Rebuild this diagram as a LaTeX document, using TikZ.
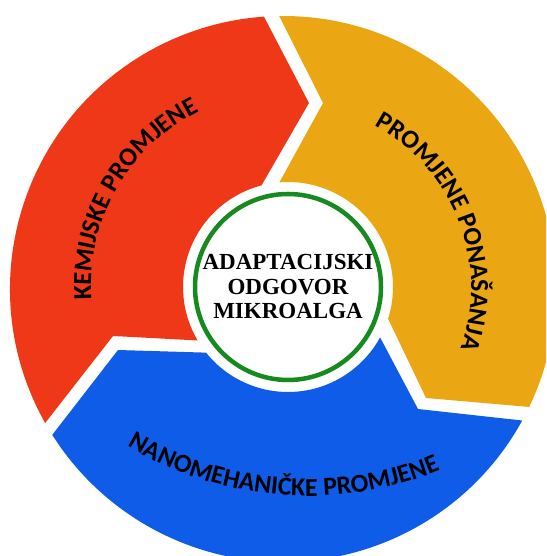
\documentclass[tikz,border=0pt]{standalone}
\usepackage{fontspec}
\usetikzlibrary{decorations.text}
\newfontfamily\segfont{Carlito}
\newfontfamily\ctrfont{Liberation Serif}
\definecolor{segred}{HTML}{EE3817}
\definecolor{segorange}{HTML}{EBA613}
\definecolor{segblue}{HTML}{0F5CE8}
\definecolor{ringgreen}{HTML}{178A1F}
\tikzset{
  segment/.style={draw=none},
  ringnode/.style={circle, draw=ringgreen, line width=4.5pt, fill=white, minimum size=186pt, inner sep=0pt},
  centertext/.style={font=\ctrfont\bfseries\fontsize{23}{24.5}\selectfont, align=center, inner sep=0pt}
}
\begin{document}
\begin{tikzpicture}[x=1pt,y=1pt]
\useasboundingbox (0,0) rectangle (546,556);
\clip (0,0) rectangle (546,556);
\coordinate (O) at (283,267);
\coordinate (C) at (288,269);
\coordinate (B) at (308,411);
% red segment
\fill[segment, segred] ([shift={(O)}]209.4:273pt) arc[start angle=209.4, end angle=94.0, radius=273pt]
  -- (309,453) -- ([shift={(C)}]104.6:105pt) arc[start angle=104.6, end angle=210.6, radius=105pt]
  -- (113,220) -- cycle;
% orange segment
\fill[segment, segorange] ([shift={(O)}]90.8:273pt) arc[start angle=90.8, end angle=-25.6, radius=273pt]
  -- (426,158) -- ([shift={(C)}]-17.6:105pt) arc[start angle=-17.6, end angle=94.7, radius=105pt]
  -- (323,453) -- cycle;
% blue segment
\fill[segment, segblue] ([shift={(O)}]-28.8:273pt) arc[start angle=-28.8, end angle=-147.7, radius=273pt]
  -- (118,206) -- ([shift={(C)}]-141.3:105pt) arc[start angle=-141.3, end angle=-28.7, radius=105pt]
  -- (418,147) -- cycle;
% curved labels
\path[decorate, decoration={text along path, text align=center,
  text={|\segfont\bfseries\fontsize{26}{26}\selectfont|KEMIJSKE PROMJENE}}]
  ([shift={(C)}]190.25:197pt) arc[start angle=190.25, end angle=110.25, radius=197pt];
\path[decorate, decoration={text along path, text align=center,
  text={|\segfont\bfseries\fontsize{26}{26}\selectfont|PROMJENE PONAŠANJA}}]
  ([shift={(C)}]66.15:183pt) arc[start angle=66.15, end angle=-23.85, radius=183pt];
\path[decorate, decoration={text along path, text align=center,
  text={|\segfont\bfseries\fontsize{26}{26}\selectfont|NANOMEHANIČKE PROMJENE}}]
  ([shift={(B)}]-129.45:351pt) arc[start angle=-129.45, end angle=-59.45, radius=351pt];
% centre
\node[ringnode] (ring) at (C) {};
\node[centertext] (centre) at (C) {ADAPTACIJSKI\\ODGOVOR\\MIKROALGA};
\end{tikzpicture}
\end{document}
